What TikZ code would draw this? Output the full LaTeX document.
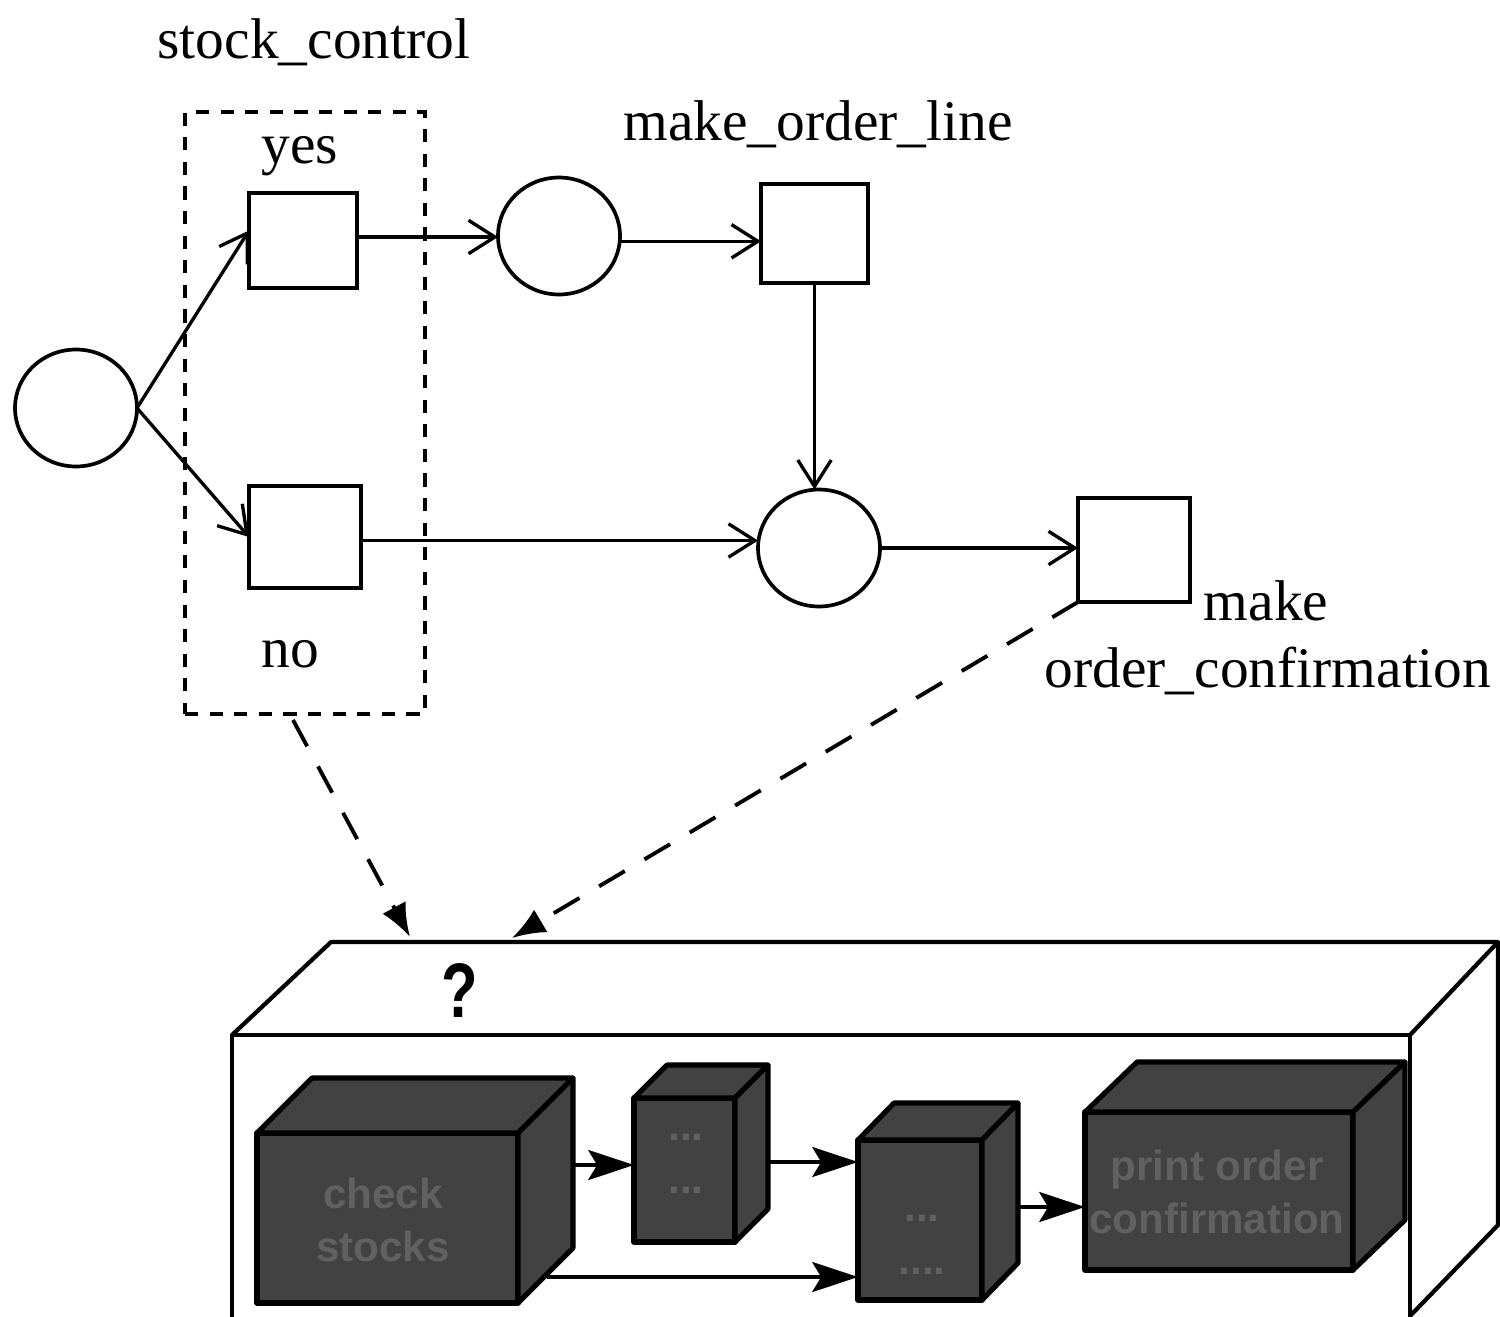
\documentclass[tikz,border=0pt]{standalone}
\usepackage{fontspec}
\setmainfont{Liberation Serif}
\setsansfont{Liberation Sans}
\usetikzlibrary{arrows.meta,shapes.geometric,calc,fit}
\newcommand\mycube[7]{%
  \coordinate (#1-a) at (#2,#3);
  \coordinate (#1-b) at (#4,#5);
  \node[cubebox, fit=(#1-a)(#1-b)] (#1) {};
  \filldraw[cubeline] (#1.north west) -- ++(#6,#7) -- ([shift={(#6,#7)}]#1.north east) -- (#1.north east) -- cycle;
  \filldraw[cubeline] (#1.north east) -- ++(#6,#7) -- ([shift={(#6,#7)}]#1.south east) -- (#1.south east) -- cycle;
}
\begin{document}
\begin{tikzpicture}[x=0.02cm,y=-0.02cm,
  every node/.style={inner sep=0pt, outer sep=0pt},
  ell/.style={draw, ellipse, line width=2.1pt, minimum width=2.44cm, minimum height=2.34cm},
  sq/.style={draw, rectangle, line width=2.1pt},
  lbl/.style={font=\fontsize{32.7pt}{38pt}\selectfont, anchor=base},
  flow/.style={line width=1.9pt, -{Straight Barb[length=15pt,width=19pt]}},
  dasharrow/.style={line width=2.2pt, dash pattern=on 17pt off 13pt, -{Latex[length=19pt,width=15pt]}},
  boxline/.style={line width=2.4pt, line join=round},
  cubebox/.style={draw, line width=2.9pt, fill=black!74, line join=round},
  cubeline/.style={draw, line width=2.9pt, fill=black!74, line join=round},
  cubetext/.style={font=\sffamily\bfseries\fontsize{24pt}{30pt}\selectfont, text=black!62, align=center},
  cubearrow/.style={line width=2.4pt, -{Stealth[length=26pt,width=17pt,inset=5pt]}}
]
\useasboundingbox (0,0) rectangle (1500,1316);

% upper graph
\node[draw, line width=2.1pt, dash pattern=on 7.5pt off 6.5pt, minimum width=4.8cm, minimum height=12.04cm] (stock) at (305,413) {};
\node[lbl] (stocklbl) at (314,58) {stock\_control};
\node[lbl] (yeslbl) at (300,163) {yes};
\node[lbl] (nolbl) at (290,667) {no};
\node[lbl] (mollbl) at (818,140) {make\_order\_line};
\node[lbl] (makelbl) at (1266,620) {make};
\node[lbl] (conflbl) at (1268,687) {order\_confirmation};

\node[ell] (c1) at (76,408) {};
\node[ell] (c2) at (559,236) {};
\node[ell] (c3) at (819,548) {};
\node[sq, minimum width=2.16cm, minimum height=1.9cm] (yes) at (303,240.5) {};
\node[sq, minimum width=2.24cm, minimum height=2.04cm] (no) at (305,537) {};
\node[sq, minimum width=2.14cm, minimum height=1.98cm] (mol) at (814.5,233.5) {};
\node[sq, minimum width=2.24cm, minimum height=2.08cm] (conf) at (1134,550) {};

\draw[flow] (c1.east) -- ([yshift=5.7pt]yes.west);
\draw[flow] (c1.east) -- (no.west);
\draw[flow] ([yshift=2pt]yes.east) -- ([yshift=2pt]yes.east -| c2.west);
\draw[flow] ([yshift=-3pt]c2.east) -- ([yshift=-3pt]c2.east -| mol.west);
\draw[flow] (mol.south) -- (mol.south |- c3.north);
\draw[flow] ([yshift=-2pt]no.east) -- ([yshift=-2pt]no.east -| c3.west);
\draw[flow] (c3.east) -- (c3.east -| conf.west);

% big box
\coordinate (q1) at (410,937);
\coordinate (q2) at (512,938);
\coordinate (s1) at (293,720);
\draw[boxline] (232,1330) -- (232,1035) -- (1410,1035) -- (1410,1330);
\draw[boxline] (232,1035) -- (331,942) -- (1498,942) -- (1410,1035);
\draw[boxline] (1498,942) -- (1498,1225) -- (1410,1316);
\node[font=\sffamily\bfseries\fontsize{40pt}{44pt}\selectfont] (q) at (460,990) {\scalebox{0.85}[1.1]{?}};

\draw[dasharrow] (s1) -- (q1);
\draw[dasharrow] (conf.south west) -- (q2);

% cubes
\mycube{k1}{257}{1133}{518}{1303}{55}{-55}
\mycube{k2}{634}{1098}{735}{1242}{33}{-33}
\mycube{k3}{858}{1140}{982}{1300}{36}{-37}
\mycube{k4}{1085}{1112}{1353}{1270}{52}{-50}

\node[cubetext] at (383,1220) {check\\stocks};
\node[cubetext] at (686,1164) {...\\...};
\node[cubetext] at (922,1245) {...\\....};
\node[cubetext] at (1217,1192) {print order\\confirmation};

\coordinate (k1r) at ($(k1.east)+(55,-53)$);
\coordinate (k1b) at ($(k1.south east)+(29,-26)$);
\coordinate (k2r) at ($(k2.east)+(33,-8)$);
\coordinate (k3r) at ($(k3.east)+(36,-13)$);
\draw[cubearrow] (k1r) -- (k1r -| k2.west);
\draw[cubearrow] (k2r) -- (k2r -| k3.west);
\draw[cubearrow] (k1b) -- (k1b -| k3.west);
\draw[cubearrow] (k3r) -- (k3r -| k4.west);
\end{tikzpicture}
\end{document}
